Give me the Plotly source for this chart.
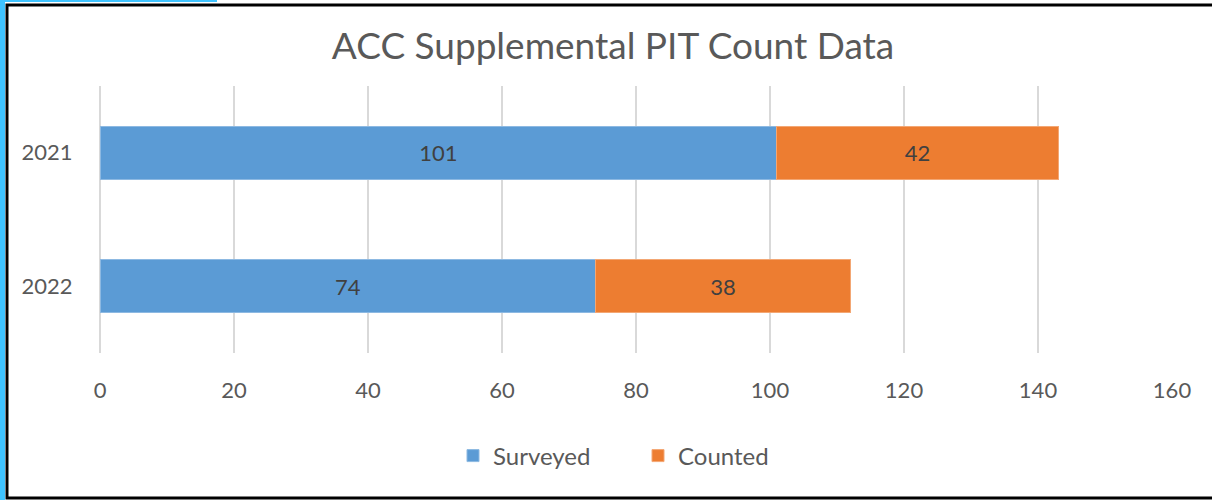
from plotly import graph_objects as go

years = ["2021", "2022"]
surveyed = [101, 74]
counted = [42, 38]
x_ticks = [0, 20, 40, 60, 80, 100, 120, 140, 160]

W, H = 1212, 500
L, R, T, B = 100, 40, 86, 147
pw, ph = W - L - R, H - T - B


def px(x):
    return (x - L) / pw


def py(y):
    return (H - B - y) / ph


font = "Lato, 'Open Sans', sans-serif"

fig = go.Figure(
    data=[
        go.Bar(
            y=years,
            x=surveyed,
            name="Surveyed",
            orientation="h",
            marker=dict(color="#5B9BD5", line=dict(color="#8DB9E2", width=1)),
            text=surveyed,
            textposition="inside",
            insidetextanchor="middle",
            textfont=dict(color="#404040", size=22, family=font),
        ),
        go.Bar(
            y=years,
            x=counted,
            name="Counted",
            orientation="h",
            marker=dict(color="#ED7D31", line=dict(color="#F3A774", width=1)),
            text=counted,
            textposition="inside",
            insidetextanchor="middle",
            textfont=dict(color="#404040", size=22, family=font),
        ),
    ],
    layout=dict(
        width=W,
        height=H,
        barmode="stack",
        bargap=0.6,
        margin=dict(l=L, r=R, t=T, b=B),
        paper_bgcolor="white",
        plot_bgcolor="white",
        font=dict(family=font, color="#595959", size=22),
        title=dict(
            text="ACC Supplemental PIT Count Data",
            x=613 / W,
            xref="container",
            xanchor="center",
            y=1 - 46 / H,
            yanchor="middle",
            font=dict(size=37, color="#595959", family=font),
        ),
        xaxis=dict(
            range=[0, 160],
            tickvals=x_ticks,
            showgrid=True,
            gridcolor="#D9D9D9",
            gridwidth=2,
            zeroline=True,
            zerolinecolor="#D9D9D9",
            zerolinewidth=2,
            showline=False,
            ticks="outside",
            ticklen=18,
            tickcolor="rgba(0,0,0,0)",
            tickfont=dict(size=22, color="#595959"),
            fixedrange=True,
        ),
        yaxis=dict(
            categoryorder="array",
            categoryarray=years,
            autorange="reversed",
            showgrid=False,
            zeroline=False,
            showline=False,
            ticks="outside",
            ticklen=22,
            tickcolor="rgba(0,0,0,0)",
            tickfont=dict(size=22, color="#595959"),
            fixedrange=True,
        ),
        legend=dict(
            orientation="h",
            x=px(453),
            xanchor="left",
            y=py(456),
            yanchor="middle",
            font=dict(size=24, color="#595959"),
            entrywidth=140,
            entrywidthmode="pixels",
            traceorder="normal",
        ),
        shapes=[
            # black frame
            dict(type="rect", xref="paper", yref="paper",
                 x0=px(7), x1=px(W + 5), y0=py(498), y1=py(5),
                 line=dict(color="black", width=3), fillcolor="rgba(0,0,0,0)",
                 layer="above"),
            # blue selection edges
            dict(type="rect", xref="paper", yref="paper",
                 x0=px(0), x1=px(5), y0=py(H), y1=py(0),
                 line=dict(width=0), fillcolor="#3FC3FF", layer="above"),
            dict(type="rect", xref="paper", yref="paper",
                 x0=px(0), x1=px(217), y0=py(2), y1=py(0),
                 line=dict(width=0), fillcolor="#3FC3FF", layer="above"),
        ],
    ),
)

fig.write_html(
    "out.html",
    config={"displayModeBar": False},
    post_script="document.body.style.margin='0';document.body.style.overflow='hidden';",
)
